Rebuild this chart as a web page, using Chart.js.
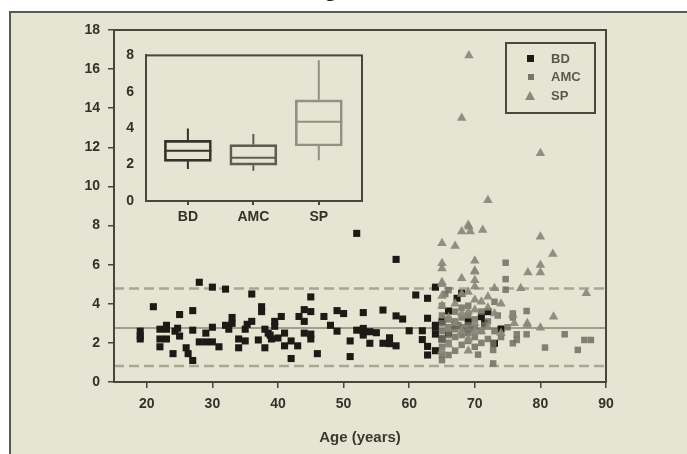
<!DOCTYPE html>
<html><head><meta charset="utf-8">
<script src="https://cdn.jsdelivr.net/npm/chart.js@4.4.1/dist/chart.umd.min.js"></script>
<style>
html,body{margin:0;padding:0;background:#fff;width:687px;height:454px;overflow:hidden;font-family:"Liberation Sans",Arial,sans-serif;}
#panel{position:absolute;left:9px;top:11px;width:700px;height:460px;background:#e6e4d2;border-left:2px solid #5a594c;border-top:2px solid #5a594c;}
#title{position:absolute;left:0;width:687px;top:-21px;text-align:center;font:bold 20px "Liberation Serif",serif;line-height:20px;color:#222;}
#main{position:absolute;left:0;top:0;}
#inset{position:absolute;left:100px;top:35px;}
#legend{position:absolute;left:505px;top:42px;width:91px;height:72px;box-sizing:border-box;border:2px solid #4a493e;}
.li{position:absolute;left:44px;font:bold 13px "Liberation Sans",Arial,sans-serif;color:#5a594e;line-height:14px;}
.mk{position:absolute;}
</style></head>
<body>
<div id="title">Figure 1</div>
<div id="panel"></div>
<canvas id="main" width="687" height="454"></canvas>
<canvas id="inset" width="275" height="195"></canvas>
<div id="legend">
  <div class="mk" style="left:20px;top:11px;width:7px;height:7px;background:#1c1a14"></div>
  <div class="li" style="top:8px">BD</div>
  <div class="mk" style="left:21px;top:30px;width:6px;height:6px;background:#77766a"></div>
  <div class="li" style="top:26px">AMC</div>
  <div class="mk" style="left:18px;top:47px;width:0;height:0;border-left:5px solid transparent;border-right:5px solid transparent;border-bottom:9px solid #8b8a7a"></div>
  <div class="li" style="top:45px">SP</div>
</div>
<script>
// ---------- data ----------
const seriesNames = ["BD", "AMC", "SP"];
const xTicks = [20, 30, 40, 50, 60, 70, 80, 90];
const yTicks = [0, 2, 4, 6, 8, 10, 12, 14, 16, 18];
const refMean = 2.76;
const refUpper = 4.78;
const refLower = 0.82;

const bdPoints = [
[19,2.6],[19,2.35],[19,2.2],[21,3.85],[22,2.7],[22,2.2],[22,1.8],[23,2.9],[23,2.7],[23,2.2],[24,1.45],[24.3,2.6],[24.7,2.75],[25,2.35],[25,3.45],[27,3.65],[27,2.65],[26,1.75],[26.3,1.45],[27,1.1],[28,5.1],[28,2.05],[29,2.05],[30,2.05],[29,2.5],[30,2.8],[30,4.85],[31,1.8],[32,4.75],[32,2.9],[32.5,2.7],[33,3.3],[33,3.0],[34,1.75],[34,2.2],[35,2.7],[35.3,2.95],[36,3.1],[35,2.1],[36,4.5],[37.5,3.85],[37.5,3.6],[37,2.15],[38,1.75],[38,2.7],[38.5,2.5],[39,2.2],[39.5,2.85],[39.5,3.1],[38.8,2.4],[40.5,3.35],[40,2.25],[41,2.5],[41,1.85],[42,2.1],[42,1.2],[43,1.85],[43.2,3.35],[44,3.7],[44,3.1],[45,4.35],[45,3.6],[44,2.5],[45,2.45],[45,2.2],[46,1.45],[47,3.35],[48,2.9],[49,2.6],[49,3.65],[50,3.5],[51,2.1],[51,1.3],[52,2.65],[52,7.6],[53,2.57],[53,2.74],[53,2.4],[54,2.57],[55,2.52],[54,1.98],[53,3.55],[56,3.68],[56,1.98],[57,2.26],[57,1.96],[58,1.85],[58,3.38],[59,3.22],[58,6.27],[60,2.62],[61,4.45],[62,2.62],[62,2.17],[62.8,1.82],[62.8,1.38],[62.8,4.28],[62.8,3.26],[64,4.85],[64,2.8],[64,2.45],[64,1.6],[64,2.9],[66,3.63],[68,4.54],[67.3,4.28],[71,3.34],[74,2.71],[73,1.98],[65,3.1],[65,2.2],[66,2.5],[67,2.9],[69,3.1],[71.5,3.0],[72,3.6]
];
const amcPoints = [
[65,1.12],[65,1.4],[66,1.38],[65,1.8],[65,2.2],[65,2.6],[65,3.0],[65,3.4],[65,3.9],[65.5,4.5],[66,2.0],[66,2.4],[66,2.8],[66,3.2],[66,4.7],[67,1.6],[67,2.3],[67,2.7],[67,3.1],[67,3.6],[67.5,2.9],[68,1.9],[68,2.4],[68,2.8],[68,3.3],[68,3.8],[68.5,2.6],[69,2.1],[69,2.5],[69,2.9],[69,3.4],[69,3.9],[69.5,2.7],[70,1.8],[70,2.3],[70,2.8],[70,3.2],[70.5,1.4],[71,2.0],[71,2.6],[71,3.6],[71.5,2.9],[72,2.2],[72,3.1],[72.8,0.95],[72.8,1.64],[72.8,1.98],[73,2.6],[73,4.1],[74,2.3],[74.7,6.1],[74.7,5.26],[74.7,4.72],[75.8,1.98],[75.8,3.3],[75.8,3.5],[76.4,2.44],[76.4,2.15],[77.9,2.44],[77.9,3.63],[80.7,1.76],[83.7,2.44],[85.7,1.64],[86.7,2.15],[87.7,2.15],[75,2.8],[73.5,3.4]
];
const spPoints = [
[69.1,16.7],[68,13.5],[80,11.7],[72,9.3],[68,7.69],[69.1,7.94],[69.3,7.69],[71.2,7.77],[65,7.1],[67,6.96],[80,7.43],[81.9,6.55],[69,8.03],[65,6.07],[65,5.8],[70,5.69],[68,5.3],[78.1,5.6],[77,4.79],[73,4.79],[72,4.36],[75.8,3.43],[78,2.92],[70,4.2],[70,3.7],[70,3.0],[65,5.0],[65,4.4],[65,3.9],[80,5.98],[70,5.64],[87,4.54],[82,3.34],[80,2.78],[78,3.0],[70,4.88],[65,5.1],[66,3.3],[66,2.7],[67,4.0],[67,3.0],[68,4.5],[68,3.5],[68,2.6],[69,4.6],[69,3.6],[69,2.2],[70,2.6],[71,4.1],[71,2.6],[72,3.8],[72,2.8],[73,3.5],[74,4.0],[74,2.5],[76,3.0],[65,1.6],[66,1.9],[69,1.6],[70,5.2],[70,6.2],[80,5.6]
];

// inset boxplot
const boxCats = ["BD", "AMC", "SP"];
const boxWhiskerLow = [1.76, 1.66, 2.24];
const boxQ1 = [2.18, 1.97, 3.02];
const boxMedian = [2.76, 2.37, 4.36];
const boxQ3 = [3.33, 3.1, 5.56];
const boxWhiskerHigh = [3.98, 3.68, 7.73];
const insetYTicks = [0, 2, 4, 6, 8];

// ---------- styles ----------
const axisColor = '#48473c';
const tickColor = '#33322a';
const bold = (s) => ({family: '"Liberation Sans", Arial, sans-serif', size: s, weight: 'bold'});
const toXY = a => a.map(p => ({x: p[0], y: p[1]}));
const frame = {
  id: 'frame',
  afterDraw(chart) {
    const {ctx, chartArea: a} = chart;
    ctx.save();
    ctx.strokeStyle = axisColor; ctx.lineWidth = 2;
    ctx.strokeRect(a.left, a.top, a.right - a.left, a.bottom - a.top);
    ctx.restore();
  }
};

new Chart(document.getElementById('main'), {
  type: 'scatter',
  data: {
    datasets: [
      {type: 'line', label: 'upper', data: [{x: 15, y: refUpper}, {x: 90, y: refUpper}], borderColor: '#a8a796', borderWidth: 2.5, borderDash: [10, 5], pointRadius: 0, order: 10},
      {type: 'line', label: 'mean', data: [{x: 15, y: refMean}, {x: 90, y: refMean}], borderColor: '#a09f8e', borderWidth: 2, pointRadius: 0, order: 10},
      {type: 'line', label: 'lower', data: [{x: 15, y: refLower}, {x: 90, y: refLower}], borderColor: '#a8a796', borderWidth: 2.5, borderDash: [10, 5], pointRadius: 0, order: 10},
      {label: seriesNames[0], data: toXY(bdPoints), pointStyle: 'rect', pointRadius: 5, backgroundColor: '#1c1a14', borderWidth: 0, order: 3},
      {label: seriesNames[1], data: toXY(amcPoints), pointStyle: 'rect', pointRadius: 4.6, backgroundColor: 'rgba(112,111,98,0.85)', borderWidth: 0, order: 2},
      {label: seriesNames[2], data: toXY(spPoints), pointStyle: 'triangle', pointRadius: 5.5, backgroundColor: 'rgba(138,137,120,0.92)', borderWidth: 0, order: 1}
    ]
  },
  options: {
    responsive: false, animation: false, devicePixelRatio: 1,
    layout: {padding: {left: 20, right: 81, top: 30, bottom: 0}},
    plugins: {legend: {display: false}, tooltip: {enabled: false}},
    scales: {
      x: {
        type: 'linear', min: 15, max: 90,
        afterBuildTicks: s => { s.ticks = xTicks.map(v => ({value: v})); },
        afterFit: s => { s.height = 72; },
        grid: {drawOnChartArea: false, drawTicks: true, tickLength: 6, color: axisColor, lineWidth: 1.5},
        border: {display: true, color: axisColor, width: 2},
        ticks: {color: tickColor, font: bold(14), padding: 8},
        title: {display: true, text: 'Age (years)', color: '#3a392f', font: bold(15), padding: {top: 4, bottom: 7}}
      },
      y: {
        type: 'linear', min: 0, max: 18,
        afterBuildTicks: s => { s.ticks = yTicks.map(v => ({value: v})); },
        afterFit: s => { s.width = 94; },
        grid: {drawOnChartArea: false, drawTicks: true, tickLength: 6, color: axisColor, lineWidth: 1.5},
        border: {display: true, color: axisColor, width: 2},
        ticks: {color: tickColor, font: bold(14), padding: 8}
      }
    }
  },
  plugins: [frame]
});

const boxColors = ['#34332b', '#5e5d52', '#939282'];
const boxExtras = {
  id: 'boxExtras',
  afterDatasetsDraw(chart) {
    const {ctx, scales: {x, y}} = chart;
    const half = 23.5;
    ctx.save();
    ctx.lineWidth = 2;
    boxCats.forEach((c, i) => {
      const px = x.getPixelForValue(i + 1);
      ctx.strokeStyle = boxColors[i];
      ctx.beginPath();
      ctx.moveTo(px - half, y.getPixelForValue(boxMedian[i]));
      ctx.lineTo(px + half, y.getPixelForValue(boxMedian[i]));
      ctx.moveTo(px, y.getPixelForValue(boxQ3[i]));
      ctx.lineTo(px, y.getPixelForValue(boxWhiskerHigh[i]));
      ctx.moveTo(px, y.getPixelForValue(boxQ1[i]));
      ctx.lineTo(px, y.getPixelForValue(boxWhiskerLow[i]));
      ctx.stroke();
    });
    ctx.restore();
  }
};

new Chart(document.getElementById('inset'), {
  type: 'bar',
  data: {
    datasets: [{
      data: boxCats.map((c, i) => ({x: i + 1, y: [boxQ1[i], boxQ3[i]]})),
      backgroundColor: 'rgba(0,0,0,0)',
      borderColor: boxColors,
      borderWidth: 2, borderSkipped: false, barThickness: 47
    }]
  },
  options: {
    responsive: false, animation: false, devicePixelRatio: 1,
    layout: {padding: {left: 0, right: 13, top: 13, bottom: 0}},
    plugins: {legend: {display: false}, tooltip: {enabled: false}},
    scales: {
      x: {
        type: 'linear', min: 0.36, max: 3.66, offset: false,
        afterBuildTicks: s => { s.ticks = boxCats.map((c, i) => ({value: i + 1})); },
        afterFit: s => { s.height = 29; },
        grid: {drawOnChartArea: false, drawTicks: true, tickLength: 4, offset: false, color: axisColor, lineWidth: 2},
        border: {display: true, color: axisColor, width: 2},
        ticks: {color: tickColor, font: bold(14), padding: 4, callback: (v) => boxCats[Math.round(v) - 1]}
      },
      y: {
        type: 'linear', min: 0, max: 8,
        afterBuildTicks: s => { s.ticks = insetYTicks.map(v => ({value: v})); },
        afterFit: s => { s.width = 46; },
        grid: {display: false, drawTicks: false},
        border: {display: true, color: axisColor, width: 2},
        ticks: {color: tickColor, font: bold(14), padding: 12}
      }
    }
  },
  plugins: [boxExtras, frame]
});
</script>
</body></html>
